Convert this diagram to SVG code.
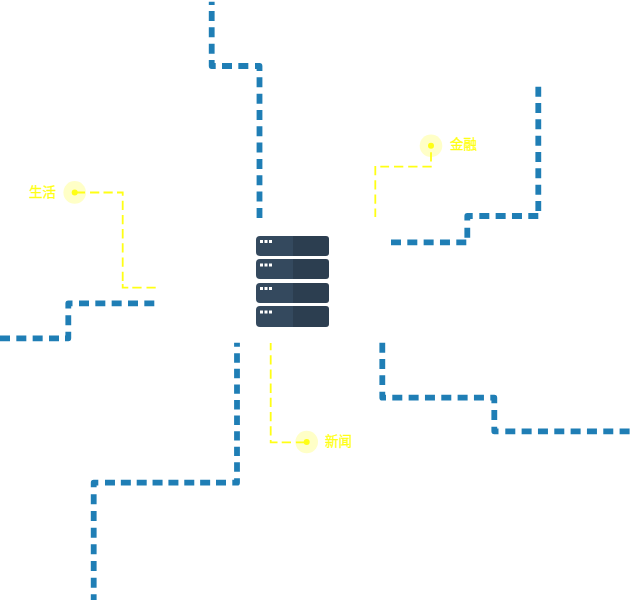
<svg xmlns="http://www.w3.org/2000/svg" width="630" height="603" viewBox="0 0 630 603">
<style>
.b{fill:none;stroke:#1f7eb5;stroke-width:5.8;stroke-dasharray:10 6.33;stroke-linejoin:round}
.y{fill:none;stroke:#ffff14;stroke-width:1.8;stroke-dasharray:9.3 4.9}
.h{fill:#ffff1e;fill-opacity:.25}
.d{fill:#ffff14}
.t{fill:#ffff14;stroke:#ffff14;stroke-width:.3;font:400 13.500px "Noto Sans CJK SC",sans-serif}
.l{fill:#34495e}
.r{fill:#2c3e50}
.w{fill:#fff}
</style>
<g id="connectors">
<path class="b" d="M211.700,1.700V5M211.700,11V56M211.700,60V66H216M222,66H250M255,66H259.500V71M259.500,77.300V218"/>
<path class="b" d="M538.300,86.700V211M538.300,216H479M472.700,216H467.300V220.500M467.300,227.700V238M466.300,242.300H391"/>
<path class="b" d="M0,338.300H59M65,338.300H68.300V331.700M68.300,325.300V315M68.300,308.500V303.300H72.500M79,303.300H154.300"/>
<path class="b" style="stroke-dasharray:9.400 6.170" d="M237,342.700V346.700M237,353.300V472"/>
<path class="b" d="M237,478.300V482.700H232.300M98.300,482.700H93.700V487.300"/>
<path class="b" style="stroke-dasharray:10 5.860" d="M226,482.700H105"/>
<path class="b" style="stroke-dasharray:10 6.670" d="M93.700,494.300V600"/>
<path class="b" d="M382.300,342.700V385M382.300,391.700V397.700H386M392.300,397.700H484M490.300,397.700H494.300V403.300M494.300,410V420M494.300,426.700V431.300H498.500M505.300,431.300H630"/>
<path class="y" d="M431,152.300V161.700M431.700,166.700H380.300M375.300,166V217"/>
<path class="y" d="M76,192.500H85M90,192.500H99.300M103.500,192.500H112.700M117,192.500H122.700V195.700M122.700,200.700V281M122.700,284V287.700H128.300M132.300,287.700H155.700"/>
<path class="y" d="M270.700,343V350.300M270.700,355.200V436M270.700,440V442.300H277.500M281.700,442.300H305.200"/>
</g>
<g id="server">
<path class="l" d="M293,236H260a4,4 0 0 0-4,4V252a4,4 0 0 0 4,4H293Z"/><path class="r" d="M293,236H326a3,3 0 0 1 3,3V253a3,3 0 0 1-3,3H293Z"/>
<path class="l" d="M293,259H260a4,4 0 0 0-4,4V275a4,4 0 0 0 4,4H293Z"/><path class="r" d="M293,259H326a3,3 0 0 1 3,3V276a3,3 0 0 1-3,3H293Z"/>
<path class="l" d="M293,283H260a4,4 0 0 0-4,4V299a4,4 0 0 0 4,4H293Z"/><path class="r" d="M293,283H326a3,3 0 0 1 3,3V300a3,3 0 0 1-3,3H293Z"/>
<path class="l" d="M293,306H260a4,4 0 0 0-4,4V323a4,4 0 0 0 4,4H293Z"/><path class="r" d="M293,306H326a3,3 0 0 1 3,3V324a3,3 0 0 1-3,3H293Z"/>
<rect class="w" x="260" y="240" width="3" height="3"/><rect class="w" x="264.500" y="240" width="3" height="3"/><rect class="w" x="269" y="240" width="3" height="3"/>
<rect class="w" x="260" y="263.500" width="3" height="3"/><rect class="w" x="264.500" y="263.500" width="3" height="3"/><rect class="w" x="269" y="263.500" width="3" height="3"/>
<rect class="w" x="260" y="287" width="3" height="3"/><rect class="w" x="264.500" y="287" width="3" height="3"/><rect class="w" x="269" y="287" width="3" height="3"/>
<rect class="w" x="260" y="310.500" width="3" height="3"/><rect class="w" x="264.500" y="310.500" width="3" height="3"/><rect class="w" x="269" y="310.500" width="3" height="3"/>
</g>
<g id="finance"><circle class="h" cx="431" cy="145.700" r="11.300"/><circle class="d" cx="431" cy="145.700" r="3"/><text class="t" x="450" y="149">金融</text></g>
<g id="life"><circle class="h" cx="74.700" cy="192.400" r="11.300"/><circle class="d" cx="74.700" cy="192.400" r="3"/><text class="t" x="29" y="197">生活</text></g>
<g id="news"><circle class="h" cx="306.700" cy="442" r="11.300"/><circle class="d" cx="306.700" cy="442" r="3"/><text class="t" x="325" y="446">新闻</text></g>
</svg>
